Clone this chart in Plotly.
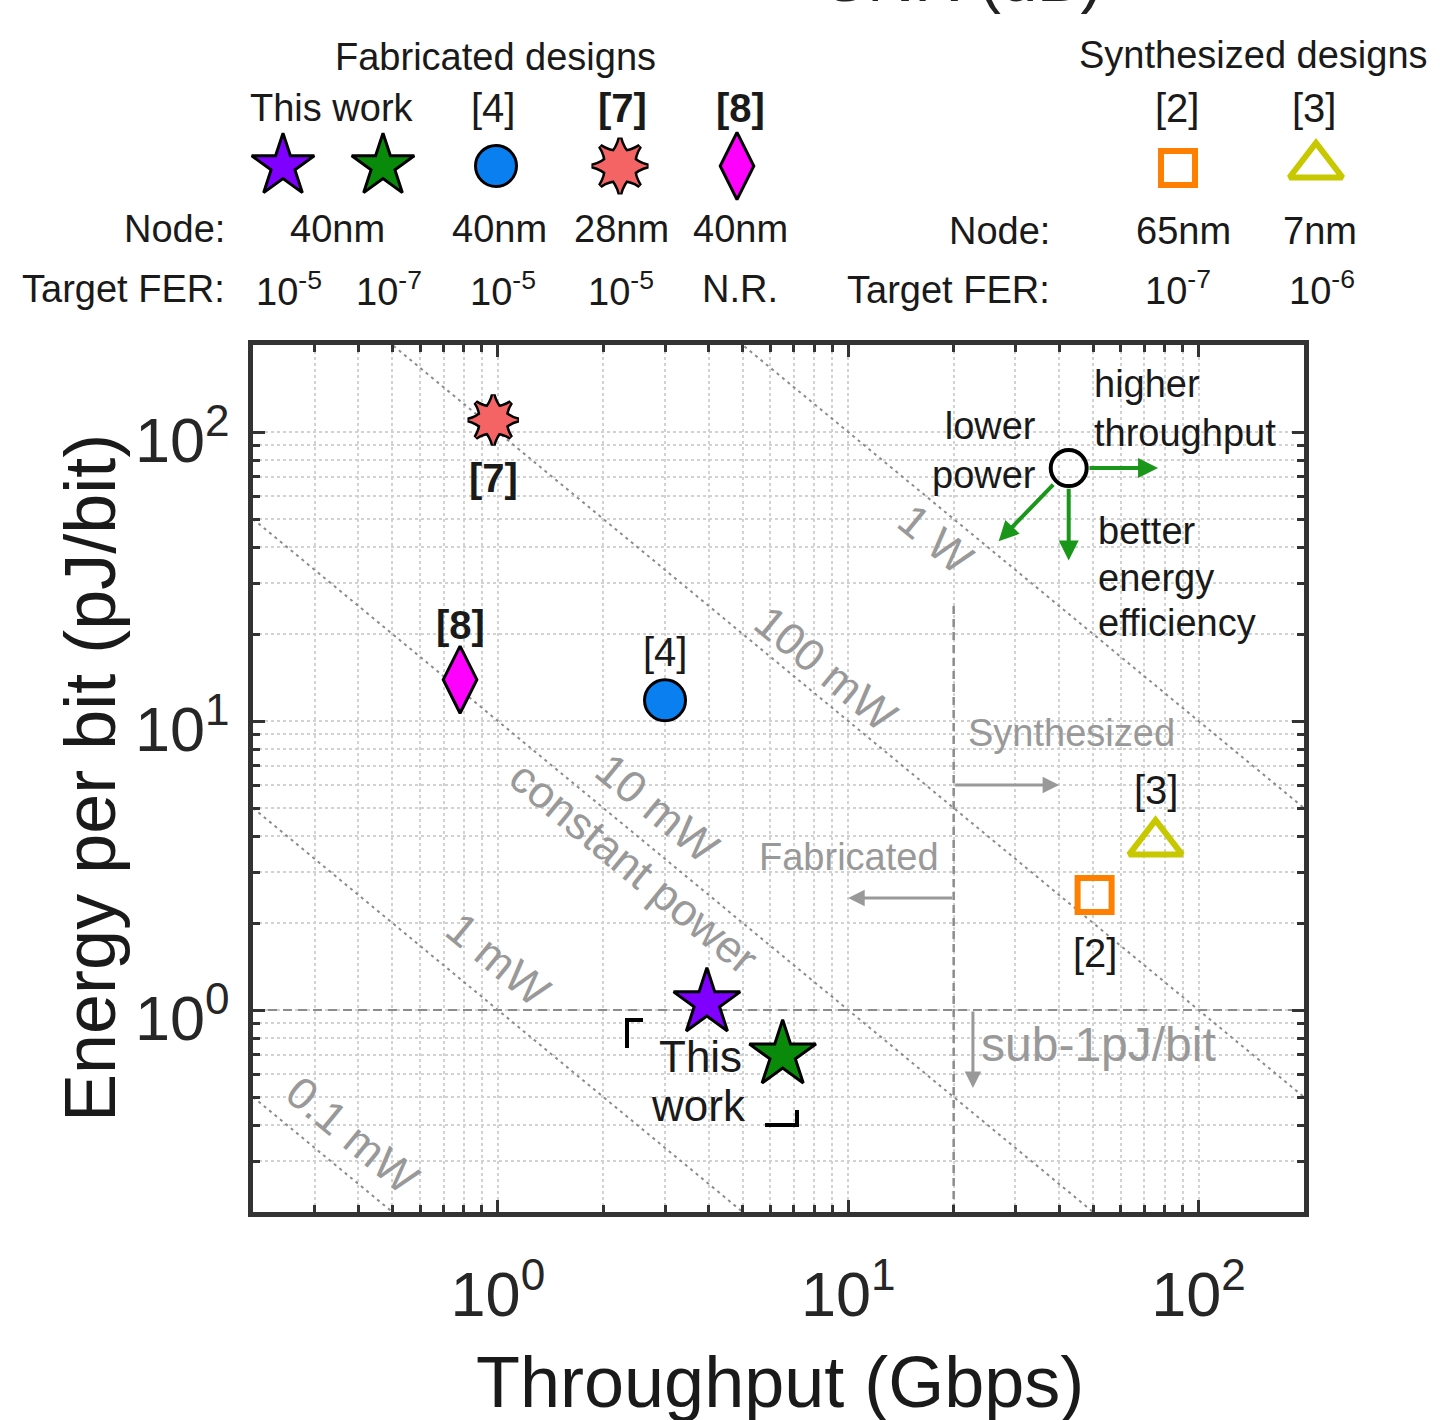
import math
import plotly.graph_objects as go

# ---------------- data ----------------
this_work_T = [3.95, 6.5]          # Gbps
this_work_E = [1.06, 0.70]         # pJ/bit
this_work_colors = ["#8000ff", "#0a8a0a"]
ref4_T, ref4_E = [3.0], [11.8]
ref7_T, ref7_E = [0.97], [110.0]
ref8_T, ref8_E = [0.78], [13.9]
ref2_T, ref2_E = [50.5], [2.5]
ref3_T, ref3_E = [75.4], [3.78]

power_mW = [0.1, 1, 10, 100, 1000]
power_labels = ["0.1 mW", "1 mW", "10 mW", "100 mW", "1 W"]
power_label_T = [0.386, 1.0, 2.86, 8.63, 17.8]
power_label_E = [0.369, 1.49, 5.0, 15.2, 42.3]

boundary_T = 20.0      # fabricated | synthesized divider
boundary_Etop = 26.0
sub1_E = 1.0

x_range = [0.2, 200]
y_range = [0.2, 200]
tick_vals = [1, 10, 100]
x_ticktext = ["10<sup>0</sup>", "10<sup>1</sup>", "10<sup>2</sup>"]
y_ticktext = ["10<sup>0</sup>", "10<sup>1</sup>", "10<sup>2</sup>"]
minor_vals = [m * 10 ** k for k in (-1, 0, 1, 2) for m in range(2, 10)]

# legend table
fab_title = "Fabricated designs"
fab_heads = ["This work", "[4]", "<b>[7]</b>", "<b>[8]</b>"]
fab_nodes = ["40nm", "40nm", "28nm", "40nm"]
fab_fer = ["10<sup>-5</sup>", "10<sup>-7</sup>", "10<sup>-5</sup>", "10<sup>-5</sup>", "N.R."]
syn_title = "Synthesized designs"
syn_heads = ["[2]", "[3]"]
syn_nodes = ["65nm", "7nm"]
syn_fer = ["10<sup>-7</sup>", "10<sup>-6</sup>"]

# ---------------- figure ----------------
W, H = 1440, 1420
FONT = "Liberation Sans, Arial, sans-serif"
GREY = "#999999"
L = math.log10

fig = go.Figure()

# constant power lines
for p in power_mW:
    xs = [x_range[0], x_range[1]]
    fig.add_trace(go.Scatter(x=xs, y=[p / v for v in xs], mode="lines",
                             line=dict(color="#8c8c8c", width=2, dash="3px,4px"),
                             hoverinfo="skip", showlegend=False))
# divider lines
fig.add_trace(go.Scatter(x=[x_range[0], x_range[1]], y=[sub1_E, sub1_E], mode="lines",
                         line=dict(color="#8c8c8c", width=2, dash="9px,6px"), showlegend=False))
fig.add_trace(go.Scatter(x=[boundary_T, boundary_T], y=[y_range[0], boundary_Etop], mode="lines",
                         line=dict(color="#8c8c8c", width=2.5, dash="8px,5px"), showlegend=False))

# data markers
def star8(xs, ys, size_d, size_s, xa="x", ya="y"):
    for lw in (5, 0):
        fig.add_trace(go.Scatter(x=xs, y=ys, mode="markers", xaxis=xa, yaxis=ya, showlegend=False,
                                 marker=dict(symbol="star-square", size=size_s, color="#f46464",
                                             line=dict(color="black", width=lw))))
        fig.add_trace(go.Scatter(x=xs, y=ys, mode="markers", xaxis=xa, yaxis=ya, showlegend=False,
                                 marker=dict(symbol="star-diamond", size=size_d, color="#f46464",
                                             line=dict(color="black", width=lw))))

fig.add_trace(go.Scatter(x=ref8_T, y=ref8_E, mode="markers", showlegend=False,
                         marker=dict(symbol="diamond-tall", size=48, color="#ff00ff",
                                     line=dict(color="black", width=3))))
fig.add_trace(go.Scatter(x=ref4_T, y=ref4_E, mode="markers", showlegend=False,
                         marker=dict(symbol="circle", size=41, color="#0a80f0",
                                     line=dict(color="black", width=3))))
star8(ref7_T, ref7_E, 36, 32)
fig.add_trace(go.Scatter(x=this_work_T, y=this_work_E, mode="markers", showlegend=False,
                         marker=dict(symbol="star", size=50, color=this_work_colors,
                                     line=dict(color="black", width=3))))
fig.add_trace(go.Scatter(x=ref2_T, y=ref2_E, mode="markers", showlegend=False,
                         marker=dict(symbol="square-open", size=34, color="#ff7f00",
                                     line=dict(width=6))))
fig.add_trace(go.Scatter(x=ref3_T, y=ref3_E, mode="markers", showlegend=False,
                         marker=dict(symbol="triangle-up-open", size=46, color="#c8c800",
                                     line=dict(width=6))))

# direction indicator
ind_T, ind_E = 42.6, 75.0
fig.add_trace(go.Scatter(x=[ind_T], y=[ind_E], mode="markers", showlegend=False,
                         marker=dict(symbol="circle-open", size=36, color="black",
                                     line=dict(width=4))))

ann = []

def text(x, y, s, size=38, color="#1a1a1a", xanchor="center", angle=0, xref="x", yref="y", align="center"):
    ann.append(dict(x=x, y=y, text=s, xref=xref, yref=yref, showarrow=False, xanchor=xanchor,
                    yanchor="middle", textangle=angle, align=align,
                    font=dict(family=FONT, size=size, color=color)))

def arrow(x1, y1, x0, y0, color, width, size):
    ann.append(dict(x=x1, y=y1, ax=x0, ay=y0, xref="x", yref="y", axref="x", ayref="y",
                    showarrow=True, arrowhead=2, arrowsize=size, arrowwidth=width,
                    arrowcolor=color, text=""))

# power labels (slope of a constant-power line on screen)
angle = 39.5
for lab, t, e in zip(power_labels, power_label_T, power_label_E):
    text(L(t), L(e), lab, size=45, color=GREY, angle=angle)
text(L(2.44), L(3.1), "constant power", size=45, color=GREY, angle=angle)

# point labels
text(L(ref7_T[0]), L(69.3), "<b>[7]</b>", size=40)
text(L(ref8_T[0]), L(21.5), "<b>[8]</b>", size=40)
text(L(ref4_T[0]), L(17.3), "[4]", size=40)
text(L(ref3_T[0]), L(5.77), "[3]", size=40)
text(L(ref2_T[0]), L(1.57), "[2]", size=40)
text(L(3.78), L(0.688), "This", size=44)
text(L(3.74), L(0.469), "work", size=44)

# region labels + arrows
text(L(21.7), L(9.1), "Synthesized", size=38, color=GREY, xanchor="left")
arrow(L(40), L(6.0), L(boundary_T), L(6.0), GREY, 3, 1.1)
text(L(18.4), L(3.38), "Fabricated", size=38, color=GREY, xanchor="right")
arrow(L(10), L(2.44), L(boundary_T), L(2.44), GREY, 3, 1.1)
text(L(23.7), L(0.757), "sub-1pJ/bit", size=48, color=GREY, xanchor="left")
arrow(L(22.7), L(0.537), L(22.7), L(sub1_E), GREY, 3, 1.1)

# direction indicator arrows and labels
lc, ec = L(ind_T), L(ind_E)
GREEN = "#1a961a"
arrow(lc + 0.255, ec, lc + 0.055, ec, GREEN, 4, 1.0)
arrow(lc, ec - 0.32, lc, ec - 0.066, GREEN, 4, 1.0)
arrow(lc - 0.2, ec - 0.253, lc - 0.04, ec - 0.052, GREEN, 4, 1.0)
text(L(34.7), L(86.6), "lower<br>power", size=38, xanchor="right", align="right")
text(L(49.8), L(121), "higher<br>throughput", size=38, xanchor="left", align="left")
for s, e in zip(["better", "energy", "efficiency"], [45.5, 31.3, 21.8]):
    text(L(51.0), L(e), s, size=38, xanchor="left")

# axis titles
text(780 / W, 1 - 1382 / H, "Throughput (Gbps)", size=72, xref="paper", yref="paper")
text(90 / W, 1 - 778 / H, "Energy per bit (pJ/bit)", size=72, xref="paper", yref="paper", angle=-90)
# clipped heading from above
text(963 / W, 1 + 22 / H, "SNR (dB)", size=65, color="#222222", xref="paper", yref="paper")

# ---------------- legend table (pixel-space axes) ----------------
fab_marker_x = [283, 383, 496, 620, 737]
fab_head_x = [332, 493, 622, 740]
fab_node_x = [337, 499, 621, 740]
syn_x = [1178, 1316]
row_title, row_head, row_mark, row_node, row_fer = 57, 108, 166, 229, 289

text(495, row_title, fab_title, xref="x2", yref="y2")
for s, x in zip(fab_heads, fab_head_x):
    text(x, row_head, s, size=40 if "[" in s else 38, xref="x2", yref="y2")
for s, x in zip(fab_nodes, fab_node_x):
    text(x, row_node, s, xref="x2", yref="y2")
for s, x in zip(fab_fer, [289, 389, 503, 621, 740]):
    text(x, row_fer, s, xref="x2", yref="y2")
text(227, row_node, "Node:", xanchor="right", xref="x2", yref="y2")
text(227, row_fer, "Target FER:", xanchor="right", xref="x2", yref="y2")

text(1253, row_title - 2, syn_title, xref="x2", yref="y2")
for s, x in zip(syn_heads, [1177, 1314]):
    text(x, row_head, s, size=40, xref="x2", yref="y2")
for s, x in zip(syn_nodes, [1183, 1320]):
    text(x, row_node + 2, s, xref="x2", yref="y2")
for s, x in zip(syn_fer, [1178, 1322]):
    text(x, row_fer - 1, s, xref="x2", yref="y2")
text(1052, row_node + 2, "Node:", xanchor="right", xref="x2", yref="y2")
text(1052, row_fer + 1, "Target FER:", xanchor="right", xref="x2", yref="y2")

fig.add_trace(go.Scatter(x=fab_marker_x[:2], y=[row_mark] * 2, mode="markers", xaxis="x2", yaxis="y2",
                         showlegend=False,
                         marker=dict(symbol="star", size=47, color=this_work_colors,
                                     line=dict(color="black", width=3))))
fig.add_trace(go.Scatter(x=[fab_marker_x[2]], y=[row_mark], mode="markers", xaxis="x2", yaxis="y2",
                         showlegend=False,
                         marker=dict(symbol="circle", size=41, color="#0a80f0",
                                     line=dict(color="black", width=3))))
star8([fab_marker_x[3]], [row_mark], 40, 36, xa="x2", ya="y2")
fig.add_trace(go.Scatter(x=[fab_marker_x[4]], y=[row_mark], mode="markers", xaxis="x2", yaxis="y2",
                         showlegend=False,
                         marker=dict(symbol="diamond-tall", size=48, color="#ff00ff",
                                     line=dict(color="black", width=3))))
fig.add_trace(go.Scatter(x=[syn_x[0]], y=[row_mark + 2], mode="markers", xaxis="x2", yaxis="y2",
                         showlegend=False,
                         marker=dict(symbol="square-open", size=34, color="#ff7f00", line=dict(width=6))))
fig.add_trace(go.Scatter(x=[syn_x[1]], y=[row_mark], mode="markers", xaxis="x2", yaxis="y2",
                         showlegend=False,
                         marker=dict(symbol="triangle-up-open", size=46, color="#c8c800", line=dict(width=6))))

# corner brackets around "This work"
shapes = [
    dict(type="path", xref="x2", yref="y2", path="M 627 1048 L 627 1020 L 643 1020",
         line=dict(color="black", width=4)),
    dict(type="path", xref="x2", yref="y2", path="M 765 1125 L 797 1125 L 797 1110",
         line=dict(color="black", width=4)),
]

GRID = "#d2d2d2"
axis_common = dict(
    type="log", tickvals=tick_vals, ticks="inside", ticklen=12, tickwidth=3, tickcolor="#333333",
    showline=True, linewidth=4.5, linecolor="#333333", mirror="ticks",
    showgrid=True, gridcolor=GRID, griddash="dot", gridwidth=1.5, zeroline=False,
    tickfont=dict(family=FONT, size=63, color="#262626"),
    minor=dict(tickmode="array", tickvals=minor_vals, ticks="inside", ticklen=7, tickwidth=2.5,
               tickcolor="#333333", showgrid=True, gridcolor=GRID, griddash="dot", gridwidth=1.5),
)

fig.update_layout(
    width=W, height=H, margin=dict(l=0, r=0, t=0, b=0),
    paper_bgcolor="white", plot_bgcolor="rgba(0,0,0,0)",
    template="none", showlegend=False,
    xaxis=dict(axis_common, domain=[253 / W, 1304 / W], range=[L(x_range[0]), L(x_range[1])],
               ticktext=x_ticktext, ticklabelstandoff=24, anchor="y", automargin=False),
    yaxis=dict(axis_common, domain=[1 - 1212 / H, 1 - 345 / H], range=[L(y_range[0]), L(y_range[1])],
               ticktext=y_ticktext, ticklabelstandoff=6, ticklabelshift=8, anchor="x", automargin=False),
    xaxis2=dict(domain=[0, 1], range=[0, W], visible=False, anchor="y2", fixedrange=True),
    yaxis2=dict(domain=[0, 1], range=[H, 0], visible=False, anchor="x2", fixedrange=True),
    annotations=ann, shapes=shapes,
)

fig.write_html("out.html")
